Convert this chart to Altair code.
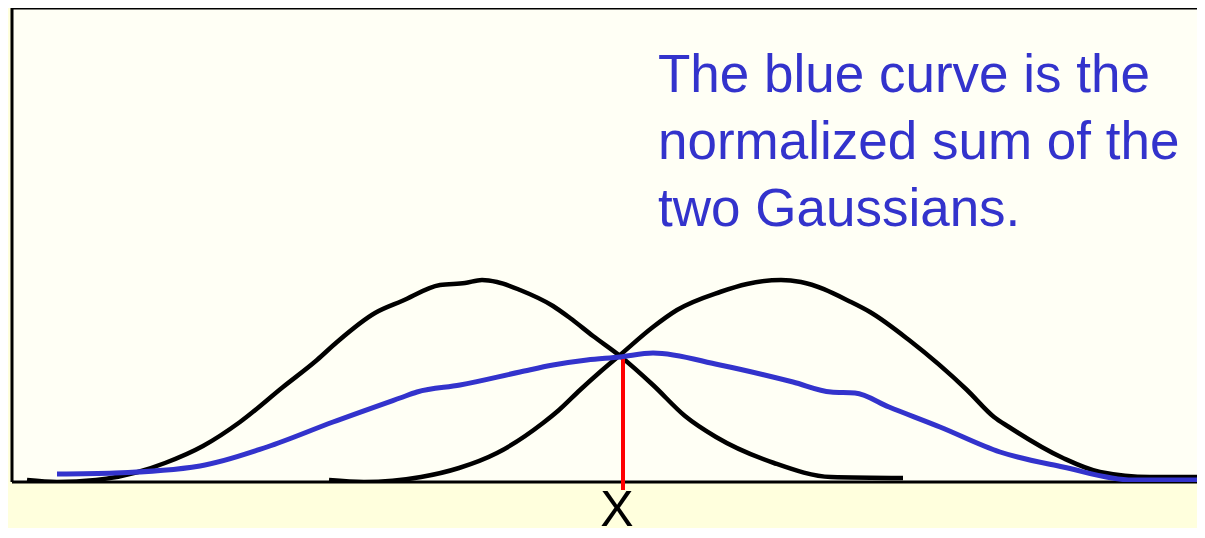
import altair as alt
import pandas as pd

# Left Gaussian (black): horizontal position, height above baseline
g1_x = [27, 57, 96, 138, 165, 203, 240, 283, 317, 337, 375, 402, 440, 465, 482, 497, 520, 553, 570, 593, 620, 653, 685, 716, 774, 831, 903]
g1_h = [2, 0, 2, 10, 19, 36, 60, 95, 122, 140, 169, 181, 197, 199, 202, 200, 192, 176, 164, 146, 126, 97, 66, 45, 19, 5, 4]

# Right Gaussian (black)
g2_x = [329, 364, 421, 459, 497, 543, 559, 580, 600, 620, 653, 677, 720, 747, 781, 801, 851, 870, 909, 967, 994, 1009, 1063, 1100, 1150, 1205]
g2_h = [2, 0, 5, 14, 29, 59, 72, 92, 110, 127, 155, 172, 190, 198, 202, 200, 180, 170, 142, 92, 65, 55, 24, 10, 5, 5]

# Normalized sum (blue)
s_x = [57, 115, 200, 267, 333, 400, 417, 460, 520, 553, 587, 620, 653, 720, 793, 831, 855, 889, 940, 1000, 1063, 1133, 1205]
s_h = [8, 9, 16, 35, 60, 84, 90, 97, 110, 117, 122, 125, 129, 117, 100, 90, 89, 75, 55, 30, 15, 2, 2]

# Marked position X and its height
mark_x = [623]
mark_top = [125]
mark_bottom = [-8]

note_lines = ["The blue curve is the", "normalized sum of the", "two Gaussians."]
note_x = [658, 658, 658]
note_h = [390, 323, 256]

label_text = ["X"]
label_x = [617]
label_h = [-44]

X_DOMAIN = [12, 1197]
H_DOMAIN = [0, 474]

xs = alt.Scale(domain=X_DOMAIN, nice=False, zero=False)
ys = alt.Scale(domain=H_DOMAIN, nice=False, zero=False)

def enc(ch):
    return ch.encode(
        x=alt.X("x:Q", scale=xs, axis=None),
        y=alt.Y("h:Q", scale=ys, axis=None),
    )

def curve(xv, hv, color, width):
    df = pd.DataFrame({"x": xv, "h": hv})
    return enc(alt.Chart(df).mark_line(color=color, strokeWidth=width,
                                       interpolate="monotone", clip=True,
                                       strokeCap="butt"))

black1 = curve(g1_x, g1_h, "#000000", 4.5)
black2 = curve(g2_x, g2_h, "#000000", 4.5)
blue = curve(s_x, s_h, "#3333CC", 5)

red_df = pd.DataFrame({"x": mark_x, "h": mark_top, "h2": mark_bottom})
red = alt.Chart(red_df).mark_rule(color="#FF0000", strokeWidth=4, clip=False).encode(
    x=alt.X("x:Q", scale=xs, axis=None),
    y=alt.Y("h:Q", scale=ys, axis=None),
    y2="h2:Q",
)

# frame: left, top and bottom edges
frame_df = pd.DataFrame({
    "x": [X_DOMAIN[0], X_DOMAIN[0], X_DOMAIN[0]],
    "x2": [X_DOMAIN[0], X_DOMAIN[1], X_DOMAIN[1]],
    "h": [H_DOMAIN[0], H_DOMAIN[1], H_DOMAIN[0]],
    "h2": [H_DOMAIN[1], H_DOMAIN[1], H_DOMAIN[0]],
})
frame = alt.Chart(frame_df).mark_rule(color="#000000", strokeWidth=3, clip=False).encode(
    x=alt.X("x:Q", scale=xs, axis=None), x2="x2:Q",
    y=alt.Y("h:Q", scale=ys, axis=None), y2="h2:Q",
)

note_df = pd.DataFrame({"x": note_x, "h": note_h, "t": note_lines})
note = enc(alt.Chart(note_df).mark_text(
    align="left", baseline="alphabetic", font="Liberation Sans",
    fontSize=53, color="#3333CC", clip=False)).encode(text="t:N")

label_df = pd.DataFrame({"x": label_x, "h": label_h, "t": label_text})
label = enc(alt.Chart(label_df).mark_text(
    align="center", baseline="alphabetic", font="Liberation Sans",
    fontSize=50, color="#000000", clip=False)).encode(text="t:N")

chart = alt.layer(frame, black1, black2, red, blue, note, label).properties(
    width=1185, height=474,
    padding={"left": 4, "top": 0, "right": 0, "bottom": 46},
    autosize=alt.AutoSizeParams(type="none"),
    background="#FFFFDD",
).configure_view(fill="#FFFFF5", stroke=None)

chart.save("out.html", embed_options={"renderer": "svg", "actions": False})
